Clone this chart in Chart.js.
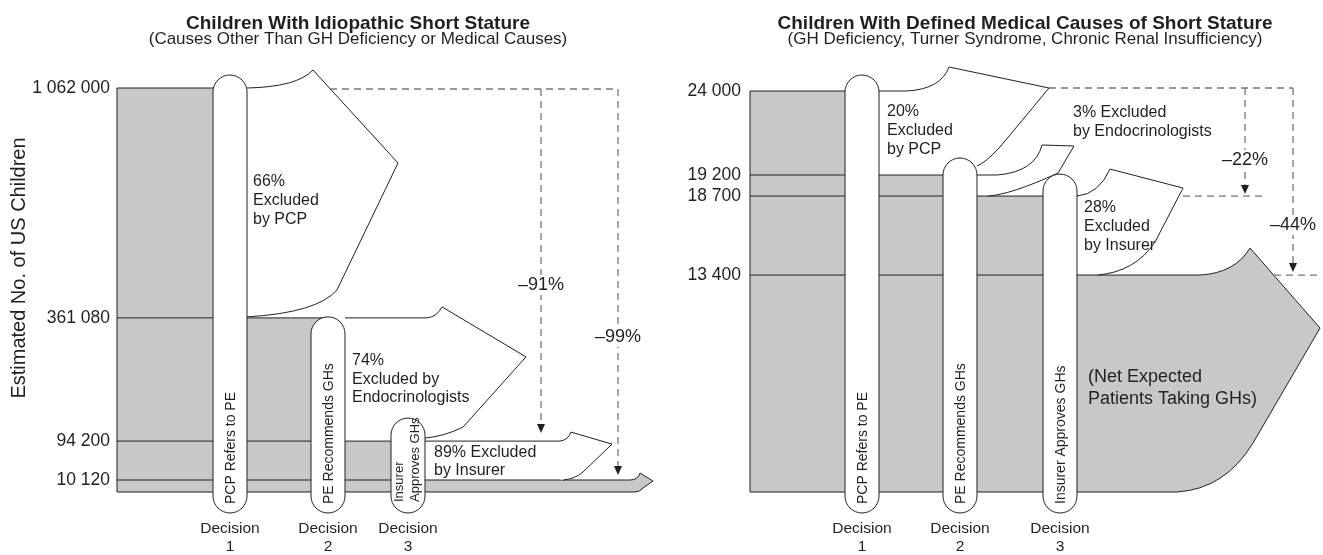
<!DOCTYPE html>
<html>
<head>
<meta charset="utf-8">
<script src="https://cdn.jsdelivr.net/npm/chart.js@4.4.1/dist/chart.umd.min.js"></script>
<style>
  html, body { margin: 0; padding: 0; background: #fff; }
  #wrap { position: relative; width: 1323px; height: 555px; overflow: hidden; }
  #idio { position: absolute; left: 0; top: 0; }
  #med { position: absolute; left: 660px; top: 0; }
</style>
</head>
<body>
<div id="wrap">
  <canvas id="idio" width="716" height="555"></canvas>
  <canvas id="med" width="663" height="555"></canvas>
</div>
<script>
const decisions = ['Decision 1', 'Decision 2', 'Decision 3'];
const yTitle = 'Estimated No. of US Children';

// left panel - idiopathic short stature
const idioTitle = 'Children With Idiopathic Short Stature';
const idioSubtitle = '(Causes Other Than GH Deficiency or Medical Causes)';
const idioCounts = [1062000, 361080, 94200, 10120];
const idioPills = [['PCP Refers to PE'], ['PE Recommends GHs'], ['Insurer', 'Approves GHs']];
const idioExcluded = [['66%', 'Excluded', 'by PCP'], ['74%', 'Excluded by', 'Endocrinologists'], ['89% Excluded', 'by Insurer']];
const idioDrops = ['\u201391%', '\u201399%'];

// right panel - defined medical causes
const medTitle = 'Children With Defined Medical Causes of Short Stature';
const medSubtitle = '(GH Deficiency, Turner Syndrome, Chronic Renal Insufficiency)';
const medCounts = [24000, 19200, 18700, 13400];
const medPills = [['PCP Refers to PE'], ['PE Recommends GHs'], ['Insurer Approves GHs']];
const medExcluded = [['20%', 'Excluded', 'by PCP'], ['3% Excluded', 'by Endocrinologists'], ['28%', 'Excluded', 'by Insurer']];
const medDrops = ['\u201322%', '\u201344%'];
const medNet = ['(Net Expected', 'Patients Taking GHs)'];

const INK = '#231f20';
const GREY = '#c7c8ca';
const DASH = '#777777';
const FONT = '"Liberation Sans", Arial, Helvetica, sans-serif';
const PILL_R = 17;

Chart.defaults.font.family = FONT;
Chart.defaults.color = INK;

// drawing geometry (px offsets), x in px from the chart area's left edge
const idioLayout = {
  width: 599, stageX: [113, 211, 291], endX: 508,
  knots: [[0, 0], [10120, 0.0297], [94200, 0.126], [361080, 0.431], [1062000, 1]],
  pillTop: [13, 1, 23],
  pillText: [{size: 14, start: 9, base: [5]}, {size: 14, start: 9, base: [5]}, {size: 13, start: 11, base: [-5, 11]}],
  shapes: [
    {flat: 0, ctrl: [50, -1], lip: [66, -18], tip: [151, 75], foot: [90, -28], bend: [70, -5], end: [0, -1]},
    {flat: 82, ctrl: [92, -1], lip: [97, -11], tip: [181, 39], foot: [118, -14], bend: [100, -5], end: [80, -3]},
    {flat: 135, ctrl: [143, -1], lip: [146, -9], tip: [187, 3], foot: [158, -8], bend: [150, -1], end: [138, 0]}
  ],
  labels: [[6, 94], [7, 43], [9, 11]],
  arrow: {flat: 5, ctrl: [13, 0], lip: [15, -7], tip: [28, 1], foot: [18, -4], bend: [15, 0], end: [10, 0]},
  dashTop: {from: 213, dy: 1},
  drops: [{x: 424, level: 2, gap: 8, labelY: 197}, {x: 501, level: 3, gap: 5, labelY: 249}],
  stubs: []
};

const medLayout = {
  width: 550, stageX: [112, 210, 310], endX: 420,
  knots: [[0, 0], [13400, 0.541], [18700, 0.738], [19200, 0.7905], [24000, 1]],
  pillTop: [16, 17, 22],
  pillText: [{size: 14, start: 9, base: [5]}, {size: 14, start: 9, base: [5]}, {size: 14, start: 9, base: [5]}],
  shapes: [
    {flat: 28, ctrl: [62, -2], lip: [70, -24], tip: [170, -3], foot: [121, -28], bend: [106, -12], end: [98, -9]},
    {flat: 20, ctrl: [58, -3], lip: [65, -30], tip: [97, -29], foot: [81, -23], bend: [33, -1], end: [10, 0]},
    {flat: 0, ctrl: [22, -2], lip: [33, -27], tip: [106, -8], foot: [78, -33], bend: [58, -3], end: [20, 0]}
  ],
  labels: [[8, 21], [96, -62], [7, 12]],
  arrow: {flat: 30, ctrl: [65, -2], lip: [80, -27], tip: [150, 53], foot: [83, -49], bend: [55, -3], end: [7, 0]},
  dashTop: {from: 299, dy: -3},
  drops: [{x: 495, level: 2, gap: 2, labelY: 69}, {x: 543, level: 3, gap: 3, labelY: 134}],
  stubs: [{level: 2, from: 433, to: 513}, {level: 3, from: 524, to: 568}],
  net: [11, 102]
};

// linear scale bent through a few knots (the diagram is not to scale)
function schematicScale(id, knots) {
  const toFrac = v => {
    for (let i = 1; i < knots.length; i++) {
      const [v0, f0] = knots[i - 1], [v1, f1] = knots[i];
      if (v <= v1 || i === knots.length - 1) return f0 + (v - v0) / (v1 - v0) * (f1 - f0);
    }
  };
  const fromFrac = f => {
    for (let i = 1; i < knots.length; i++) {
      const [v0, f0] = knots[i - 1], [v1, f1] = knots[i];
      if (f <= f1 || i === knots.length - 1) return v0 + (f - f0) / (f1 - f0) * (v1 - v0);
    }
  };
  class Schematic extends Chart.LinearScale {
    getPixelForValue(value) {
      return this.getPixelForDecimal(toFrac(value));
    }
    getValueForPixel(pixel) {
      return fromFrac(this.getDecimalForPixel(pixel));
    }
  }
  Schematic.id = id;
  Schematic.defaults = Chart.LinearScale.defaults;
  Chart.register(Schematic);
  return id;
}

function tracePath(ctx, x0, yHi, yLo, s) {
  ctx.beginPath();
  ctx.moveTo(x0, yHi);
  ctx.lineTo(x0 + s.flat, yHi);
  ctx.quadraticCurveTo(x0 + s.ctrl[0], yHi + s.ctrl[1], x0 + s.lip[0], yHi + s.lip[1]);
  ctx.lineTo(x0 + s.tip[0], yHi + s.tip[1]);
  ctx.lineTo(x0 + s.foot[0], yLo + s.foot[1]);
  ctx.quadraticCurveTo(x0 + s.bend[0], yLo + s.bend[1], x0 + s.end[0], yLo + s.end[1]);
}

function seg(ctx, x1, y1, x2, y2) {
  ctx.beginPath();
  ctx.moveTo(x1, y1);
  ctx.lineTo(x2, y2);
  ctx.stroke();
}

function flowPlugin(p) {
  const L = p.layout;
  return {
    id: 'flow',
    afterDatasetsDraw(chart) {
      const {ctx, chartArea: area, scales: {x, y}} = chart;
      const X = u => x.getPixelForValue(u);
      const lv = p.counts.map(v => y.getPixelForValue(v));
      const base = y.getPixelForValue(0);
      const last = lv[lv.length - 1];
      ctx.save();
      ctx.lineWidth = 1;
      ctx.strokeStyle = INK;
      ctx.lineJoin = 'round';

      // left edge and floor of the grey flow
      ctx.beginPath();
      ctx.moveTo(X(0), lv[0]);
      ctx.lineTo(X(0), base);
      ctx.lineTo(X(L.endX), base);
      ctx.stroke();

      // arrow head at the end of the grey flow
      const xe = X(L.endX);
      tracePath(ctx, xe, last, base, L.arrow);
      ctx.lineTo(xe, base);
      ctx.fillStyle = GREY;
      ctx.fill();
      ctx.stroke();

      // excluded children branching off after each decision
      L.shapes.forEach((s, i) => {
        const xR = X(L.stageX[i]) + PILL_R;
        tracePath(ctx, xR, lv[i], lv[i + 1], s);
        ctx.fillStyle = '#fff';
        ctx.fill();
        ctx.stroke();
      });

      // dashed guides with arrows
      const topY = lv[0] + L.dashTop.dy;
      const far = Math.max(...L.drops.map(d => d.x));
      ctx.save();
      ctx.setLineDash([7, 5]);
      ctx.strokeStyle = DASH;
      ctx.lineWidth = 1.3;
      seg(ctx, X(L.dashTop.from), topY, X(far), topY);
      L.drops.forEach(d => seg(ctx, X(d.x), topY, X(d.x), lv[d.level] - d.gap - 8));
      L.stubs.forEach(s => seg(ctx, X(s.from), lv[s.level], X(s.to), lv[s.level]));
      ctx.restore();
      ctx.fillStyle = INK;
      L.drops.forEach(d => {
        const tx = X(d.x), ty = lv[d.level] - d.gap;
        ctx.beginPath();
        ctx.moveTo(tx - 4, ty - 9);
        ctx.lineTo(tx + 4, ty - 9);
        ctx.lineTo(tx, ty);
        ctx.closePath();
        ctx.fill();
      });

      // decision pills
      L.stageX.forEach((sx, i) => {
        const cx = X(sx), top = lv[i] - L.pillTop[i], bottom = base + 21;
        ctx.beginPath();
        ctx.moveTo(cx - PILL_R, bottom - PILL_R);
        ctx.lineTo(cx - PILL_R, top + PILL_R);
        ctx.arc(cx, top + PILL_R, PILL_R, Math.PI, 0);
        ctx.lineTo(cx + PILL_R, bottom - PILL_R);
        ctx.arc(cx, bottom - PILL_R, PILL_R, 0, Math.PI);
        ctx.closePath();
        ctx.fillStyle = '#fff';
        ctx.fill();
        ctx.stroke();
        const t = L.pillText[i];
        ctx.save();
        ctx.translate(cx, bottom - t.start);
        ctx.rotate(-Math.PI / 2);
        ctx.fillStyle = INK;
        ctx.font = t.size + 'px ' + FONT;
        ctx.textAlign = 'left';
        ctx.textBaseline = 'alphabetic';
        p.pills[i].forEach((line, j) => ctx.fillText(line, 0, t.base[j]));
        ctx.restore();
      });

      // excluded labels
      ctx.fillStyle = INK;
      ctx.textAlign = 'left';
      ctx.textBaseline = 'middle';
      ctx.font = '16px ' + FONT;
      p.excluded.forEach((lines, i) => {
        const [dx, dy] = L.labels[i];
        const xR = X(L.stageX[i]) + PILL_R;
        lines.forEach((t, j) => ctx.fillText(t, xR + dx, lv[i] + dy + j * 18.6));
      });

      if (p.net) {
        ctx.font = '18px ' + FONT;
        const nx = X(L.stageX[2]) + PILL_R + L.net[0];
        p.net.forEach((t, j) => ctx.fillText(t, nx, last + L.net[1] + j * 21.5));
      }

      // percentage drop labels
      ctx.font = '18px ' + FONT;
      ctx.textAlign = 'center';
      L.drops.forEach((d, i) => {
        const tx = X(d.x), ty = area.top + d.labelY;
        const w = ctx.measureText(p.drops[i]).width + 4;
        ctx.fillStyle = '#fff';
        ctx.fillRect(tx - w / 2, ty - 10, w, 20);
        ctx.fillStyle = INK;
        ctx.fillText(p.drops[i], tx, ty);
      });

      if (p.yTitle) {
        ctx.save();
        ctx.translate(19.5, area.top + 180);
        ctx.rotate(-Math.PI / 2);
        ctx.font = '20px ' + FONT;
        ctx.textAlign = 'center';
        ctx.textBaseline = 'middle';
        ctx.fillStyle = INK;
        ctx.fillText(p.yTitle, 0, 0);
        ctx.restore();
      }
      ctx.restore();
    }
  };
}

function fmt(v) {
  return Math.round(v).toLocaleString('en-US').replace(/,/g, ' ');
}

function makeChart(canvasId, p) {
  const L = p.layout;
  const counts = p.counts;
  const yType = schematicScale('schematic-' + canvasId, L.knots);

  // grey stepped flow: level drops at each decision
  const steps = counts.map((c, i) => ({x: i === 0 ? 0 : L.stageX[i - 1], y: c}));
  steps.push({x: L.endX, y: counts[counts.length - 1]});

  // thin lines marking the later levels inside the earlier columns
  const levelSets = counts.slice(1).map((c, i) => ({
    data: [{x: 0, y: c}, {x: L.stageX[i], y: c}],
    borderColor: INK, borderWidth: 1, pointRadius: 0, fill: false, clip: false
  }));

  return new Chart(document.getElementById(canvasId), {
    type: 'line',
    data: {
      datasets: [
        ...levelSets,
        {
          data: steps, stepped: true, fill: 'origin', backgroundColor: GREY,
          borderColor: INK, borderWidth: 1, pointRadius: 0, clip: false
        }
      ]
    },
    options: {
      responsive: false,
      animation: false,
      events: [],
      layout: {padding: {left: 0, right: p.padRight, top: 0, bottom: 0}},
      plugins: {
        legend: {display: false},
        tooltip: {enabled: false},
        title: {
          display: true, text: p.title, fullSize: p.fullTitle, color: INK,
          font: {size: 19, weight: 'bold', lineHeight: '16px'},
          padding: {top: 16, bottom: 0}
        },
        subtitle: {
          display: true, text: p.subtitle, fullSize: p.fullTitle, color: INK,
          font: {size: 17, lineHeight: '14px'},
          padding: {top: 0, bottom: p.titleGap}
        }
      },
      scales: {
        x: {
          type: 'linear', min: 0, max: L.width,
          grid: {display: false, drawTicks: false},
          border: {display: false},
          afterBuildTicks: s => { s.ticks = L.stageX.map(v => ({value: v})); },
          afterFit: s => { s.height = 63; },
          ticks: {
            autoSkip: false, maxRotation: 0, padding: 28, color: INK,
            font: {size: 15.5, lineHeight: '18px'},
            callback: (v, i) => decisions[i].split(' ')
          }
        },
        y: {
          type: yType, min: 0, max: counts[0],
          grid: {display: false, drawTicks: false},
          border: {display: false},
          afterBuildTicks: s => { s.ticks = counts.slice().reverse().map(v => ({value: v})); },
          afterFit: s => { s.width = p.axisWidth; },
          ticks: {autoSkip: false, padding: p.tickPad, color: INK, font: {size: 17.5}, callback: v => fmt(v)}
        }
      }
    },
    plugins: [flowPlugin(p)]
  });
}

makeChart('idio', {
  counts: idioCounts, layout: idioLayout, pills: idioPills, excluded: idioExcluded,
  drops: idioDrops, title: idioTitle, subtitle: idioSubtitle, yTitle: yTitle,
  padRight: 0, axisWidth: 117, tickPad: 7, titleGap: 42, fullTitle: true
});

makeChart('med', {
  counts: medCounts, layout: medLayout, pills: medPills, excluded: medExcluded,
  drops: medDrops, net: medNet, title: medTitle, subtitle: medSubtitle,
  padRight: 23, axisWidth: 90, tickPad: 9, titleGap: 45, fullTitle: false
});
</script>
</body>
</html>
